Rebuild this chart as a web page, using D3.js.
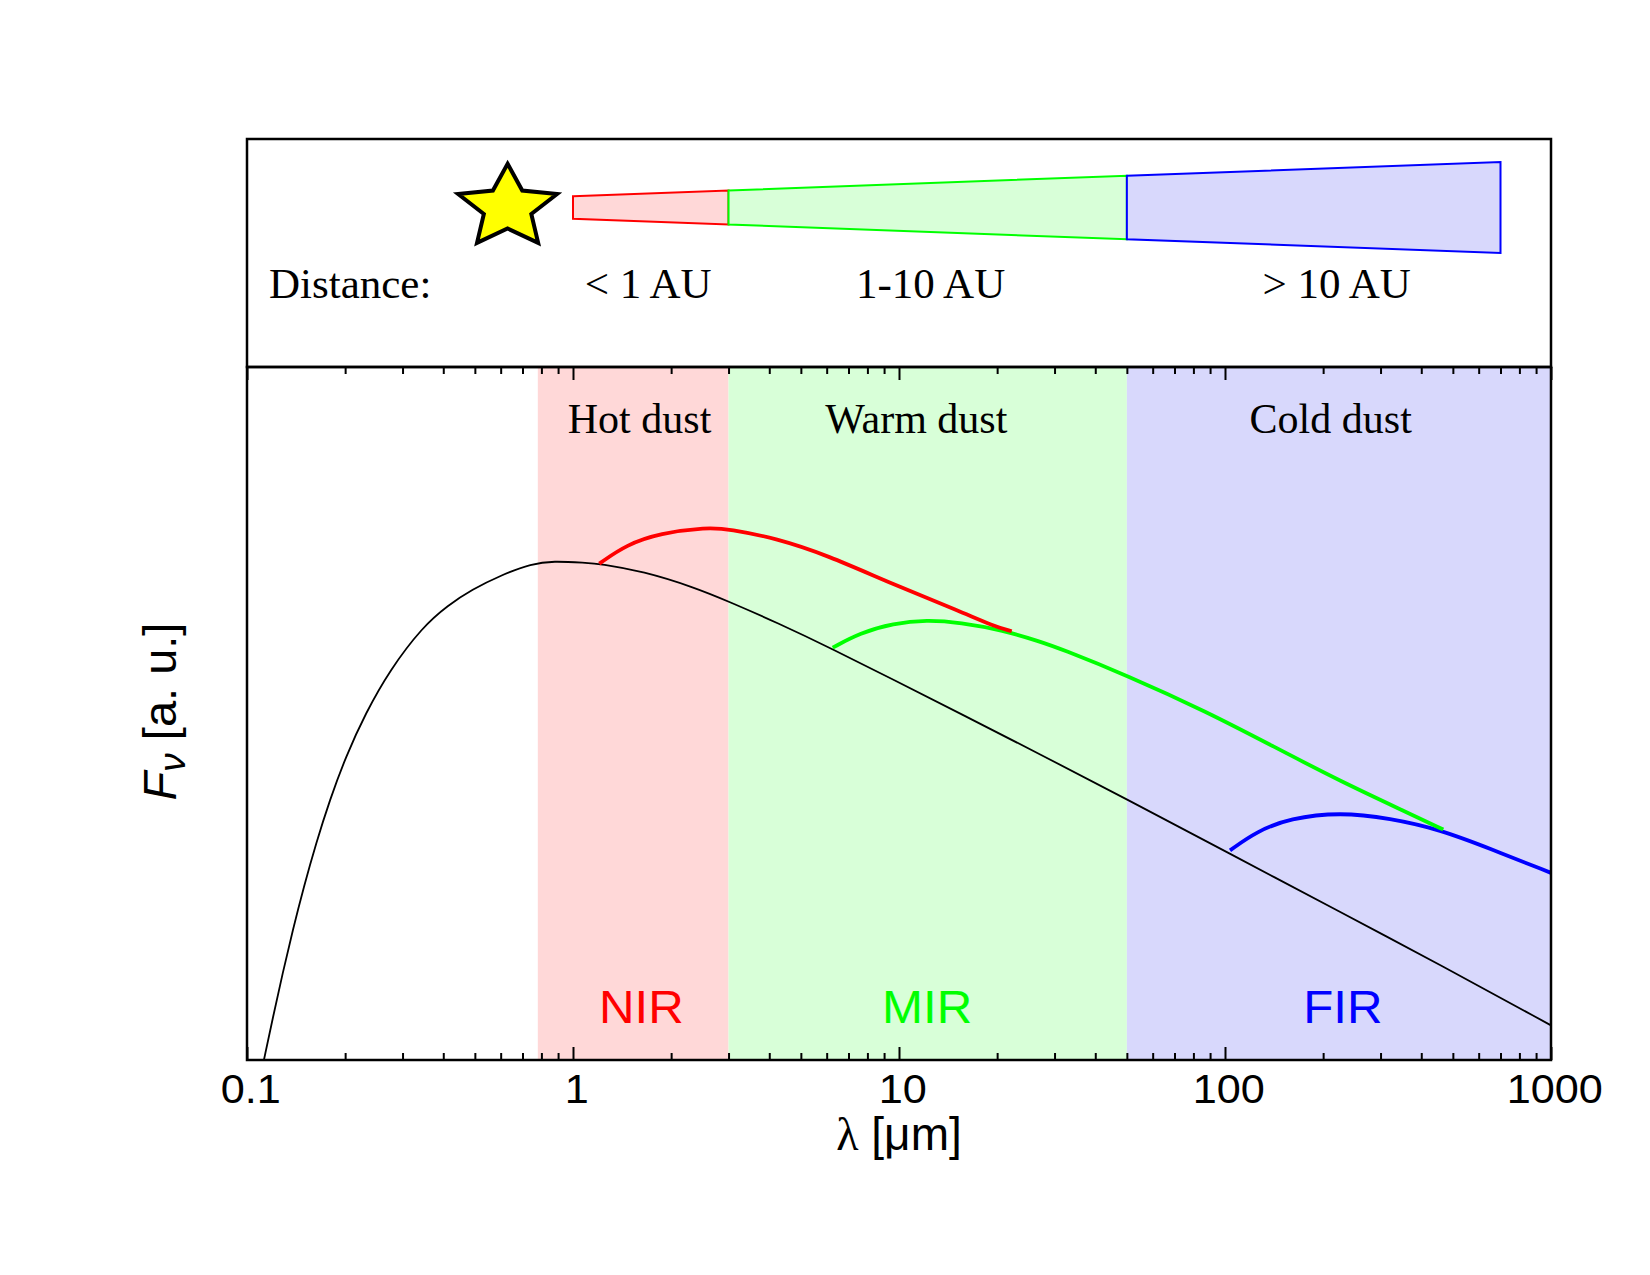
<!DOCTYPE html>
<html>
<head>
<meta charset="utf-8">
<script src="https://cdn.jsdelivr.net/npm/d3@7"></script>
<style>
  html, body { margin: 0; padding: 0; background: #fff; }
  svg { display: block; }
</style>
</head>
<body>
<script>
// values: wavelength in micron, flux as log10 F_nu (arbitrary units)
var starWave = [0.1127, 0.1202, 0.1286, 0.1382, 0.1494, 0.1628, 0.1794, 0.2008, 0.2308, 0.274, 0.3454,
                0.4137, 0.489, 0.604, 0.747, 0.870, 1.088, 1.21, 1.643, 2.339, 3.016, 4.215, 6.288,
                9.605, 15.39, 27.07, 50, 103.6, 225.4, 456.6, 1000];
var starFlux = [0.00, 0.50, 1.00, 1.50, 2.00, 2.50, 3.00, 3.50, 4.00, 4.50, 5.00,
                5.25, 5.43, 5.60, 5.73, 5.76, 5.74, 5.73, 5.64, 5.46, 5.29, 5.05, 4.74,
                4.39, 4.00, 3.53, 3.01, 2.38, 1.71, 1.10, 0.40];

var hotWave = [1.204, 1.461, 1.849, 2.571, 3.016, 4.215, 6.0, 9.605, 15.39, 19.47, 22.17];
var hotFlux = [5.73, 5.95, 6.08, 6.15, 6.13, 6.02, 5.83, 5.49, 5.18, 5.01, 4.95];

var warmWave = [6.261, 7.595, 9.605, 12.16, 15.39, 20.89, 27.07, 31.19, 50, 87.9, 140.7, 225.4, 360.9, 467.3];
var warmFlux = [4.76, 4.93, 5.04, 5.08, 5.05, 4.96, 4.83, 4.75, 4.44, 4.02, 3.62, 3.22, 2.86, 2.66];

var coldWave = [103.6, 125.1, 158.3, 225.4, 320.8, 456.6, 650, 1000];
var coldFlux = [2.42, 2.64, 2.79, 2.86, 2.79, 2.66, 2.44, 2.16];

// dust bands (bottom panel)
var bandEdges = [0.78, 3, 50, 1000];
var bandNames = ["Hot dust", "Warm dust", "Cold dust"];
var bandNameWave = [1.6, 11.3, 211];
var bandShort = ["NIR", "MIR", "FIR"];
var bandShortWave = [1.62, 12.2, 230];

// distance zones (top panel)
var zoneEdges = [1, 3, 50, 700];
var zoneNames = ["< 1 AU", "1-10 AU", "> 10 AU"];
var zoneLabelWave = [1.7, 12.5, 220];
var starPos = 0.63;

var tickValues = [0.1, 1, 10, 100, 1000];
var tickLabels = ["0.1", "1", "10", "100", "1000"];

var fills = ["#ffd8d8", "#d8ffd8", "#d8d8fc"];
var strokes = ["#ff0000", "#00ff00", "#0000ff"];
var serif = "'Liberation Serif', 'Times New Roman', serif";
var sans = "'Liberation Sans', Arial, Helvetica, sans-serif";

var W = 1650, H = 1275;
var left = 247, right = 1551, topY = 139, midY = 367, bottomY = 1060;

var svg = d3.select("body").append("svg")
    .attr("width", W)
    .attr("height", H)
    .style("background", "#fff");

var x = d3.scaleLog().domain([0.1, 1000]).range([left, right]);
var y = d3.scaleLinear().domain([0, 8]).range([bottomY, midY]);

svg.append("clipPath").attr("id", "plotClip")
  .append("rect")
    .attr("x", left).attr("y", midY)
    .attr("width", right - left).attr("height", bottomY - midY);

// ---- bottom panel: shaded bands
var bands = d3.range(bandNames.length).map(function (i) {
  return { a: bandEdges[i], b: bandEdges[i + 1], i: i };
});

svg.selectAll(".band")
  .data(bands)
  .enter().append("rect")
    .attr("class", "band")
    .attr("x", d => x(d.a))
    .attr("y", midY)
    .attr("width", d => x(d.b) - x(d.a))
    .attr("height", bottomY - midY)
    .attr("fill", d => fills[d.i]);

svg.selectAll(".bandName")
  .data(bandNames)
  .enter().append("text")
    .attr("x", (d, i) => x(bandNameWave[i]))
    .attr("y", 433)
    .attr("text-anchor", "middle")
    .style("font-family", serif)
    .style("font-size", "42px")
    .text(d => d);

svg.selectAll(".bandTag")
  .data(bandShort)
  .enter().append("text")
    .attr("transform", (d, i) => "translate(" + x(bandShortWave[i]) + ",1023) scale(1.07,1)")
    .attr("text-anchor", "middle")
    .style("font-family", sans)
    .style("font-size", "46px")
    .attr("fill", (d, i) => strokes[i])
    .text(d => d);

// ---- curves
var line = d3.line()
    .x(d => x(d[0]))
    .y(d => y(d[1]))
    .curve(d3.curveBasis);

var curves = svg.append("g").attr("clip-path", "url(#plotClip)");

function zip(a, b) { return a.map((v, i) => [v, b[i]]); }

curves.append("path")
    .datum(zip(starWave, starFlux))
    .attr("d", line)
    .attr("fill", "none")
    .attr("stroke", "#000")
    .attr("stroke-width", 1.8);

[[coldWave, coldFlux, 2], [warmWave, warmFlux, 1], [hotWave, hotFlux, 0]].forEach(function (s) {
  curves.append("path")
      .datum(zip(s[0], s[1]))
      .attr("d", line)
      .attr("fill", "none")
      .attr("stroke", strokes[s[2]])
      .attr("stroke-width", 3.8);
});

// ---- axes (ticks point inward)
var minor = x.ticks().filter(v => tickValues.indexOf(v) < 0);

function tickAxis(g, axisFn, size, values, fmt) {
  g.call(axisFn(x).tickValues(values).tickSize(size).tickSizeOuter(0).tickFormat(fmt).tickPadding(14.5));
  g.select(".domain").remove();
  g.selectAll(".tick line").attr("stroke", "#000").attr("stroke-width", 2);
}

var bottomMinor = svg.append("g").attr("transform", "translate(0," + bottomY + ")");
tickAxis(bottomMinor, d3.axisBottom, -7, minor, "");
var bottomMajor = svg.append("g").attr("transform", "translate(0," + bottomY + ")");
tickAxis(bottomMajor, d3.axisBottom, -13, tickValues, (d, i) => tickLabels[i]);
bottomMajor.selectAll("text")
    .attr("dx", 3)
    .attr("transform", "scale(1.08,1)")
    .attr("fill", "#000")
    .style("font-family", sans)
    .style("font-size", "40px");

var topMinor = svg.append("g").attr("transform", "translate(0," + midY + ")");
tickAxis(topMinor, d3.axisTop, -7, minor, "");
var topMajor = svg.append("g").attr("transform", "translate(0," + midY + ")");
tickAxis(topMajor, d3.axisTop, -13, tickValues, "");

// ---- frames
svg.append("rect")
    .attr("x", left).attr("y", topY)
    .attr("width", right - left).attr("height", midY - topY)
    .attr("fill", "none").attr("stroke", "#000").attr("stroke-width", 2.5);
svg.append("rect")
    .attr("x", left).attr("y", midY)
    .attr("width", right - left).attr("height", bottomY - midY)
    .attr("fill", "none").attr("stroke", "#000").attr("stroke-width", 2.5);

// ---- top panel: star and disk cone
var coneY = 207.5;
var halfWidth = d3.scaleLog().domain([1, 700]).range([11.3, 45.5]);

var zones = d3.range(zoneNames.length).map(function (i) {
  return { a: zoneEdges[i], b: zoneEdges[i + 1], name: zoneNames[i], at: zoneLabelWave[i], i: i };
});

svg.selectAll(".zone")
  .data(zones)
  .enter().append("path")
    .attr("class", "zone")
    .attr("d", d => "M" + x(d.a) + "," + (coneY - halfWidth(d.a)) +
                    "L" + x(d.b) + "," + (coneY - halfWidth(d.b)) +
                    "L" + x(d.b) + "," + (coneY + halfWidth(d.b)) +
                    "L" + x(d.a) + "," + (coneY + halfWidth(d.a)) + "Z")
    .attr("fill", d => fills[d.i])
    .attr("stroke", d => strokes[d.i])
    .attr("stroke-width", 2);

svg.selectAll(".zoneName")
  .data(zones)
  .enter().append("text")
    .attr("x", d => x(d.at))
    .attr("y", 298)
    .attr("text-anchor", "middle")
    .style("font-family", serif)
    .style("font-size", "43px")
    .text(d => d.name);

svg.append("text")
    .attr("x", 269)
    .attr("y", 298)
    .style("font-family", serif)
    .style("font-size", "43px")
    .text("Distance:");

var starPts = d3.range(10).map(function (k) {
  var ang = k * Math.PI / 5;
  var f = k % 2 ? 0.48 : 1;
  return [x(starPos) + 52 * f * Math.sin(ang), coneY - 43.7 * f * Math.cos(ang)];
});
svg.append("path")
    .attr("d", d3.line()(starPts) + "Z")
    .attr("fill", "#ffff00")
    .attr("stroke", "#000")
    .attr("stroke-width", 4)
    .attr("stroke-linejoin", "miter");

// ---- axis titles
var xt = svg.append("text")
    .attr("x", x(10))
    .attr("y", 1150)
    .attr("text-anchor", "middle")
    .style("font-family", sans)
    .style("font-size", "46px");
xt.append("tspan").style("font-family", serif).text("λ");
xt.append("tspan").text(" [μm]");

var yt = svg.append("text")
    .attr("transform", "translate(176," + ((midY + bottomY) / 2 - 2) + ") rotate(-90)")
    .attr("text-anchor", "middle")
    .style("font-family", sans)
    .style("font-size", "47px");
yt.append("tspan").style("font-style", "italic").text("F");
yt.append("tspan").style("font-style", "italic").style("font-size", "37px").attr("dy", 9).text("ν");
yt.append("tspan").attr("dy", -9).text(" [a. u.]");
</script>
</body>
</html>
